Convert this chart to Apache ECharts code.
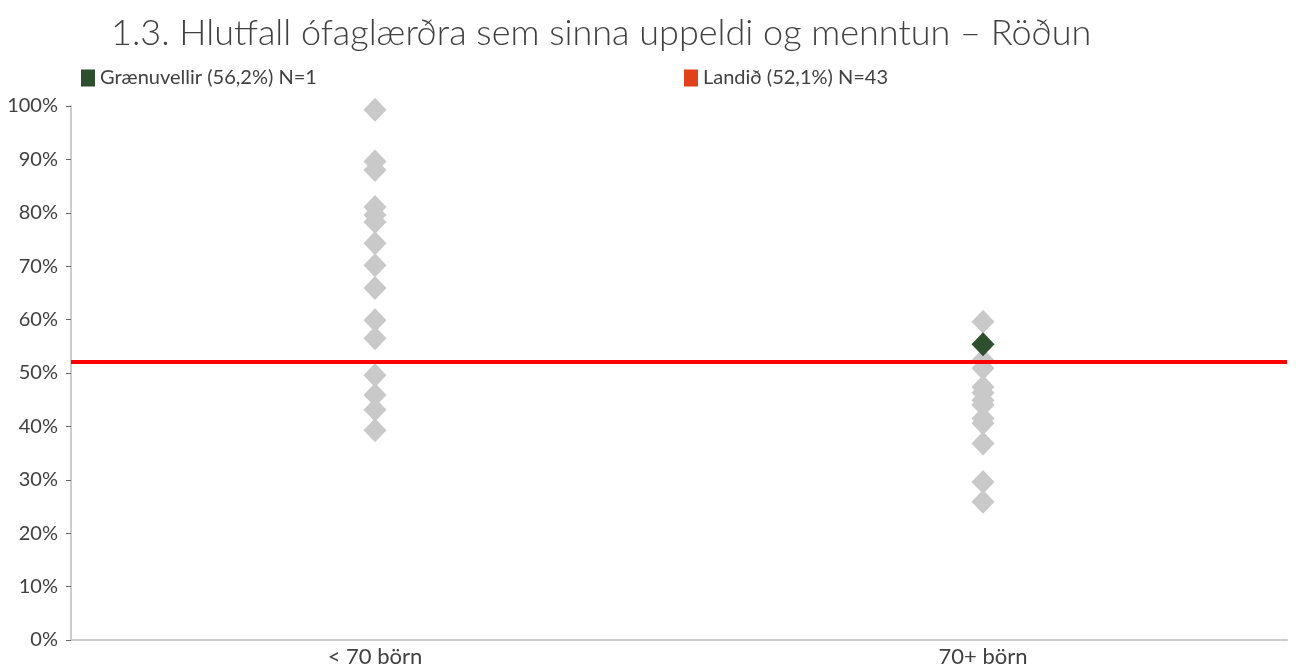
<!DOCTYPE html>
<html>
<head>
<meta charset="utf-8">
<script src="https://cdn.jsdelivr.net/npm/echarts@6/dist/echarts.min.js"></script>
<style>
html,body{margin:0;padding:0;background:#fff;}
#chart{width:1296px;height:670px;}
</style>
</head>
<body>
<div id="chart"></div>
<script>
var titleText = '1.3. Hlutfall ófaglærðra sem sinna uppeldi og menntun – Röðun';
var categories = ['< 70 börn', '70+ börn'];
var yTicks = [0, 10, 20, 30, 40, 50, 60, 70, 80, 90, 100];
// all kindergartens (grey diamonds), percent
var allSmall = [99.3, 89.6, 88.0, 81.1, 79.6, 78.3, 74.3, 70.2, 65.9, 59.9, 56.5, 49.6, 45.9, 43.1, 39.3];
var allLarge = [59.6, 52.4, 50.9, 47.4, 46.3, 44.9, 44.0, 41.5, 40.6, 36.8, 29.6, 25.9];
// selected kindergarten
var selectedName = 'Grænuvellir (56,2%) N=1';
var selectedCat = '70+ börn';
var selectedValue = 55.4;
// national average
var nationalName = 'Landið (52,1%) N=43';
var nationalValue = 52.1;

var greyData = [];
allSmall.forEach(function(v){ greyData.push([categories[0], v]); });
allLarge.forEach(function(v){ greyData.push([categories[1], v]); });

var chart = echarts.init(document.getElementById('chart'));
chart.setOption({
  animation: false,
  title: {
    text: titleText,
    left: 106, top: 10,
    textStyle: {fontFamily: 'Lato', fontWeight: 300, fontSize: 36, color: '#404040'}
  },
  legend: [{
    left: 76, top: 63, itemWidth: 14, itemHeight: 17, itemGap: 6,
    textStyle: {fontFamily: 'Lato', fontSize: 20, color: '#404040'},
    data: [{name: selectedName, icon: 'rect', itemStyle: {color: '#2e4f2e'}}]
  }, {
    left: 679, top: 63, itemWidth: 14, itemHeight: 17, itemGap: 6,
    textStyle: {fontFamily: 'Lato', fontSize: 20, color: '#404040'},
    data: [{name: nationalName, icon: 'rect', itemStyle: {color: '#e0401a'}}]
  }],
  grid: {left: 71, right: 9, top: 106, bottom: 30, containLabel: false},
  xAxis: {
    type: 'category',
    data: categories,
    boundaryGap: true,
    axisLine: {lineStyle: {color: '#cccccc', width: 2}},
    axisTick: {show: false},
    axisLabel: {fontFamily: 'Lato', fontSize: 22, color: '#404040', margin: 6}
  },
  yAxis: {
    type: 'value', min: 0, max: 100, interval: 10,
    axisLine: {show: true, lineStyle: {color: '#cccccc', width: 2}},
    axisTick: {show: true, length: 5, lineStyle: {color: '#666666', width: 1}},
    splitLine: {show: false},
    axisLabel: {fontFamily: 'Lato', fontSize: 20, color: '#404040', margin: 13,
      formatter: function(v){ return v + '%'; }}
  },
  series: [{
    name: 'all',
    type: 'scatter',
    symbol: 'diamond',
    symbolSize: [23, 24],
    itemStyle: {color: '#c9c9c9', opacity: 1},
    data: greyData,
    z: 2
  }, {
    name: nationalName,
    type: 'line',
    data: [],
    itemStyle: {color: '#e0401a'},
    markLine: {
      silent: true,
      symbol: ['none', 'none'],
      label: {show: false},
      lineStyle: {color: '#ff0000', width: 4, type: 'solid'},
      data: [{yAxis: nationalValue}]
    },
    z: 3
  }, {
    name: selectedName,
    type: 'scatter',
    symbol: 'diamond',
    symbolSize: [23, 24],
    itemStyle: {color: '#2e4f2e', opacity: 1},
    data: [[selectedCat, selectedValue]],
    z: 4
  }]
});
</script>
</body>
</html>
